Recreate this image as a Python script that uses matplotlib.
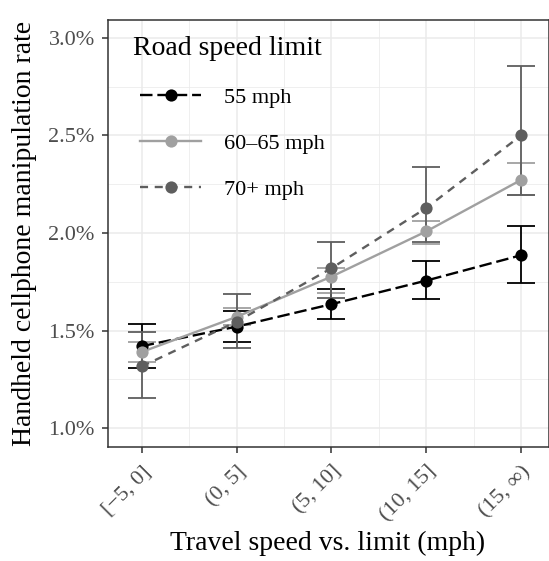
import matplotlib
matplotlib.use("Agg")
import matplotlib.pyplot as plt
from matplotlib.lines import Line2D
from matplotlib.ticker import FixedLocator, FuncFormatter

plt.rcParams['font.family'] = ['Liberation Serif', 'DejaVu Serif']
plt.rcParams['lines.scale_dashes'] = False

# Data (rates in percent)
categories = ['[\u22125, 0]', '(0, 5]', '(5, 10]', '(10, 15]', '(15, \u221e)']
groups = ['55 mph', '60\u201365 mph', '70+ mph']

rate_55 = [1.42, 1.52, 1.635, 1.756, 1.886]
lo_55 = [1.308, 1.439, 1.558, 1.66, 1.742]
hi_55 = [1.534, 1.60, 1.711, 1.858, 2.035]

rate_60 = [1.39, 1.57, 1.776, 2.008, 2.272]
lo_60 = [1.337, 1.529, 1.69, 1.943, 2.195]
hi_60 = [1.439, 1.614, 1.819, 2.06, 2.358]

rate_70 = [1.316, 1.545, 1.819, 2.128, 2.50]
lo_70 = [1.155, 1.41, 1.665, 1.952, 2.197]
hi_70 = [1.495, 1.687, 1.955, 2.338, 2.855]

rates = [rate_55, rate_60, rate_70]
lows = [lo_55, lo_60, lo_70]
highs = [hi_55, hi_60, hi_70]

colors = ['#000000', '#A0A0A0', '#5E5E5E']
dashes = [(9, 3.5), (None, None), (5.8, 4.8)]
LW = 1.7
MS = 8.8

fig = plt.figure(figsize=(5.49, 5.61), dpi=100)
ax = fig.add_axes([108 / 549, 1 - 447 / 561, 1 - 108 / 549, (447 - 20) / 561])

x = list(range(1, len(categories) + 1))

# error bars first
for r, lo, hi, c in zip(rates, lows, highs, colors):
    yerr = [[ri - l for ri, l in zip(r, lo)], [h - ri for ri, h in zip(r, hi)]]
    ax.errorbar(x, r, yerr=yerr, fmt='none', ecolor=c, elinewidth=1.3,
                capsize=10, capthick=1.3, zorder=3)

# lines
for r, c, d in zip(rates, colors, dashes):
    if d[0] is None:
        ax.plot(x, r, color=c, lw=LW, zorder=4, solid_capstyle='butt')
    else:
        ax.plot(x, r, color=c, lw=LW, dashes=d, zorder=4)

# points
for r, c in zip(rates, colors):
    ax.plot(x, r, 'o', color=c, ms=MS, mew=0, zorder=5)

ax.set_xlim(0.645, 5.295)
ax.set_ylim(0.903, 3.092)

ax.set_xticks(x)
ax.set_xticklabels(categories)
ax.xaxis.set_minor_locator(FixedLocator([1.5, 2.5, 3.5, 4.5]))
ax.set_yticks([1.0, 1.5, 2.0, 2.5, 3.0])
ax.yaxis.set_major_formatter(FuncFormatter(lambda v, p: f'{v:.1f}%'))
ax.yaxis.set_minor_locator(FixedLocator([1.25, 1.75, 2.25, 2.75]))

ax.grid(True, which='major', color='#EBEBEB', lw=1.1, zorder=0)
ax.grid(True, which='minor', color='#EBEBEB', lw=0.55, zorder=0)
ax.set_axisbelow(True)

ax.tick_params(axis='both', which='major', direction='out', length=4.5, width=1.1,
               color='#333333', labelcolor='#4D4D4D', labelsize=16)
ax.tick_params(axis='x', which='major', pad=6.5)
ax.tick_params(axis='y', which='major', pad=5)
ax.tick_params(axis='both', which='minor', length=0)
for lab in ax.get_xticklabels():
    lab.set_rotation(45)
    lab.set_ha('right')
    lab.set_va('top')
    lab.set_rotation_mode('anchor')

for s in ax.spines.values():
    s.set_color('#333333')
    s.set_linewidth(1.1)

ax.set_xlabel('Travel speed vs. limit (mph)', fontsize=20, color='black')
ax.set_ylabel('Handheld cellphone manipulation rate', fontsize=20, color='black')
ax.xaxis.set_label_coords(0.499, -0.197)
ax.yaxis.set_label_coords(-0.16, 0.5)

handles = []
for c, d in zip(colors, dashes):
    if d[0] is None:
        h = Line2D([], [], color=c, lw=LW, marker='o', ms=MS, mew=0)
    else:
        h = Line2D([], [], color=c, lw=LW, dashes=d, marker='o', ms=MS, mew=0)
    handles.append(h)

ax.legend(handles, groups, loc='upper left', frameon=False, fontsize=16,
          handlelength=2.75, handletextpad=1.04, labelspacing=1.15,
          borderpad=0, borderaxespad=0, bbox_to_anchor=(0.0726, 0.8431))
ax.text(0.0567, 0.918, 'Road speed limit', transform=ax.transAxes,
        fontsize=20, color='black', ha='left', va='baseline')

fig.savefig('out.png', dpi=100)
